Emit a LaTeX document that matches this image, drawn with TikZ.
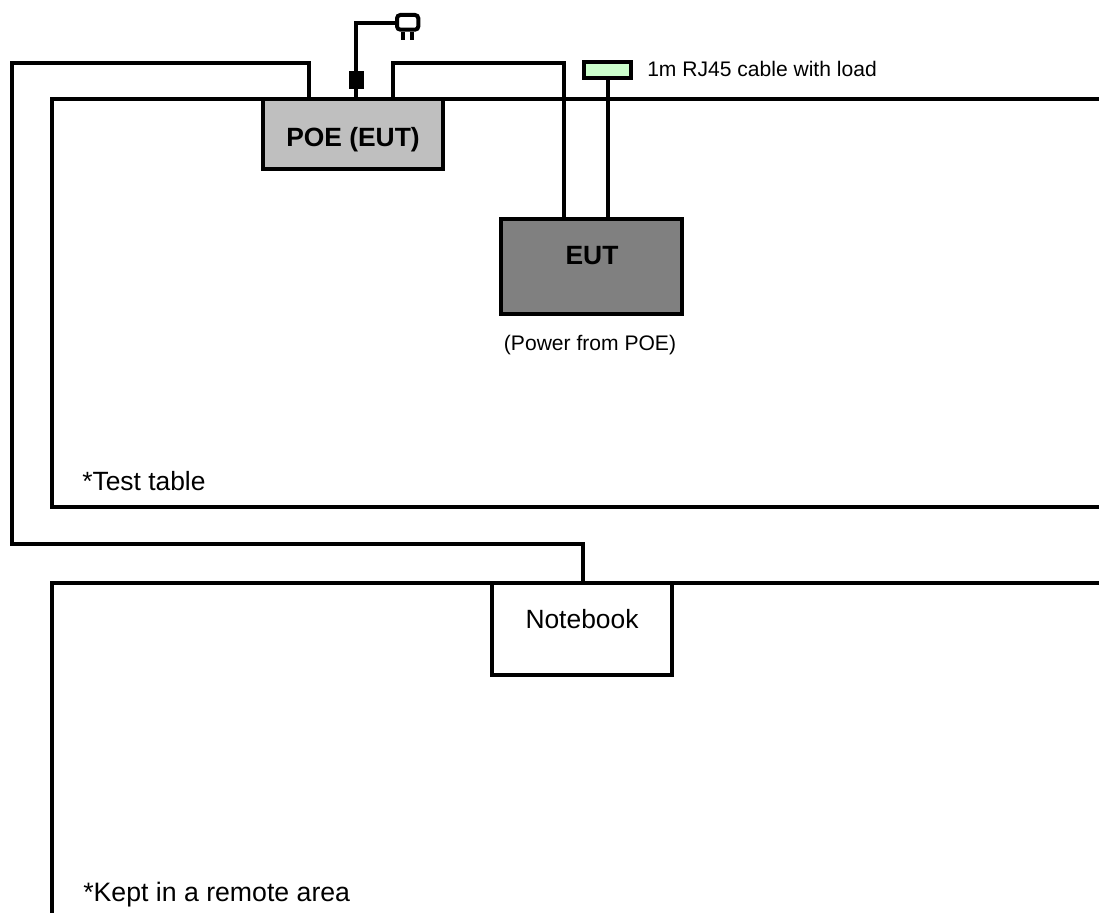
\documentclass[tikz,border=0pt]{standalone}
\usepackage{fontspec}
\setmainfont{Liberation Sans}
\tikzset{
  unit/.style={draw=black,line width=3pt,inner sep=0pt,anchor=north west},
  wire/.style={draw=black,line width=2.8pt},
  prong/.style={draw=black,line width=2.6pt},
  tableline/.style={draw=black,line width=2.4pt},
  small/.style={inner sep=0pt,font=\fontsize{15.8}{19}\selectfont},
  big/.style={inner sep=0pt,font=\fontsize{19.8}{24}\selectfont},
  bigbold/.style={inner sep=0pt,font=\fontsize{19.8}{24}\selectfont\bfseries},
}
\begin{document}
\begin{tikzpicture}
  [x=.75pt,y=-.75pt]
  \useasboundingbox (0,0) rectangle (1099,913);

  % table outlines
  \coordinate (t1) at (1099,99);
  \coordinate (t2) at (52,99);
  \coordinate (t3) at (52,507);
  \coordinate (t4) at (1099,507);
  \coordinate (r1) at (1099,583);
  \coordinate (r2) at (52,583);
  \coordinate (r3) at (52,913);
  \draw[tableline] (t1) -- (t2) -- (t3) -- (t4);
  \draw[tableline] (r1) -- (r2) -- (r3);

  % units
  \node[unit,fill=black!25,minimum width=135pt,minimum height=52.5pt] (poe) at (261,97) {};
  \node[unit,fill=black!50,minimum width=135.75pt,minimum height=71.25pt] (eut) at (499,217) {};
  \node[unit,fill=white,minimum width=135pt,minimum height=69pt] (notebook) at (490,581) {};
  \node[unit,fill=green!20,minimum width=35.25pt,minimum height=12pt] (load) at (582,60) {};
  \node[fill=black,inner sep=0pt,minimum width=11pt,minimum height=13.5pt,anchor=north west] (block) at (349,71) {};
  \node[draw=black,line width=3pt,rounded corners=2.5pt,fill=white,inner sep=0pt,minimum width=16pt,minimum height=11pt,anchor=north west] (plug) at (395,13) {};

  % free ends of the cables
  \coordinate (a1) at (309,99);
  \coordinate (a2) at (309,63);
  \coordinate (a3) at (12,63);
  \coordinate (a4) at (12,544);
  \coordinate (a5) at (583,544);
  \coordinate (a6) at (583,583);
  \coordinate (b1) at (393,99);
  \coordinate (b2) at (393,63);
  \coordinate (b3) at (564,63);
  \coordinate (b4) at (564,218);
  \coordinate (c1) at (608,218);
  \coordinate (c2) at (608,78);
  \coordinate (d1) at (356,99);
  \coordinate (d2) at (356,89);
  \coordinate (d3) at (356,71);
  \coordinate (d4) at (356,23);
  \coordinate (d5) at (396,23);
  \coordinate (p1) at (403,32);
  \coordinate (p2) at (403,40);
  \coordinate (p3) at (412,32);
  \coordinate (p4) at (412,40);

  \draw[wire] (a1) -- (a2) -- (a3) -- (a4) -- (a5) -- (a6);
  \draw[wire] (b1) -- (b2) -- (b3) -- (b4);
  \draw[wire] (c1) -- (c2);
  \draw[wire] (d1) -- (d2);
  \draw[wire] (d3) -- (d4) -- (d5);
  \foreach \from/\to in {p1/p2,p3/p4}
    \draw[prong] (\from) -- (\to);

  % labels
  \node[bigbold] (poelabel) at (353,140) {POE (EUT)};
  \node[bigbold] (eutlabel) at (592,256) {EUT};
  \node[big] (notebooklabel) at (582,619) {Notebook};
  \node[small,anchor=west] (cablelabel) at (647,69) {1m RJ45 cable with load};
  \node[small] (powerlabel) at (590,345) {(Power from POE)};
  \node[big,anchor=west] (testlabel) at (82,481) {*Test table};
  \node[inner sep=0pt,font=\fontsize{20}{24}\selectfont,anchor=west] (remotelabel) at (83,895) {*Kept in a remote area};
\end{tikzpicture}
\end{document}
